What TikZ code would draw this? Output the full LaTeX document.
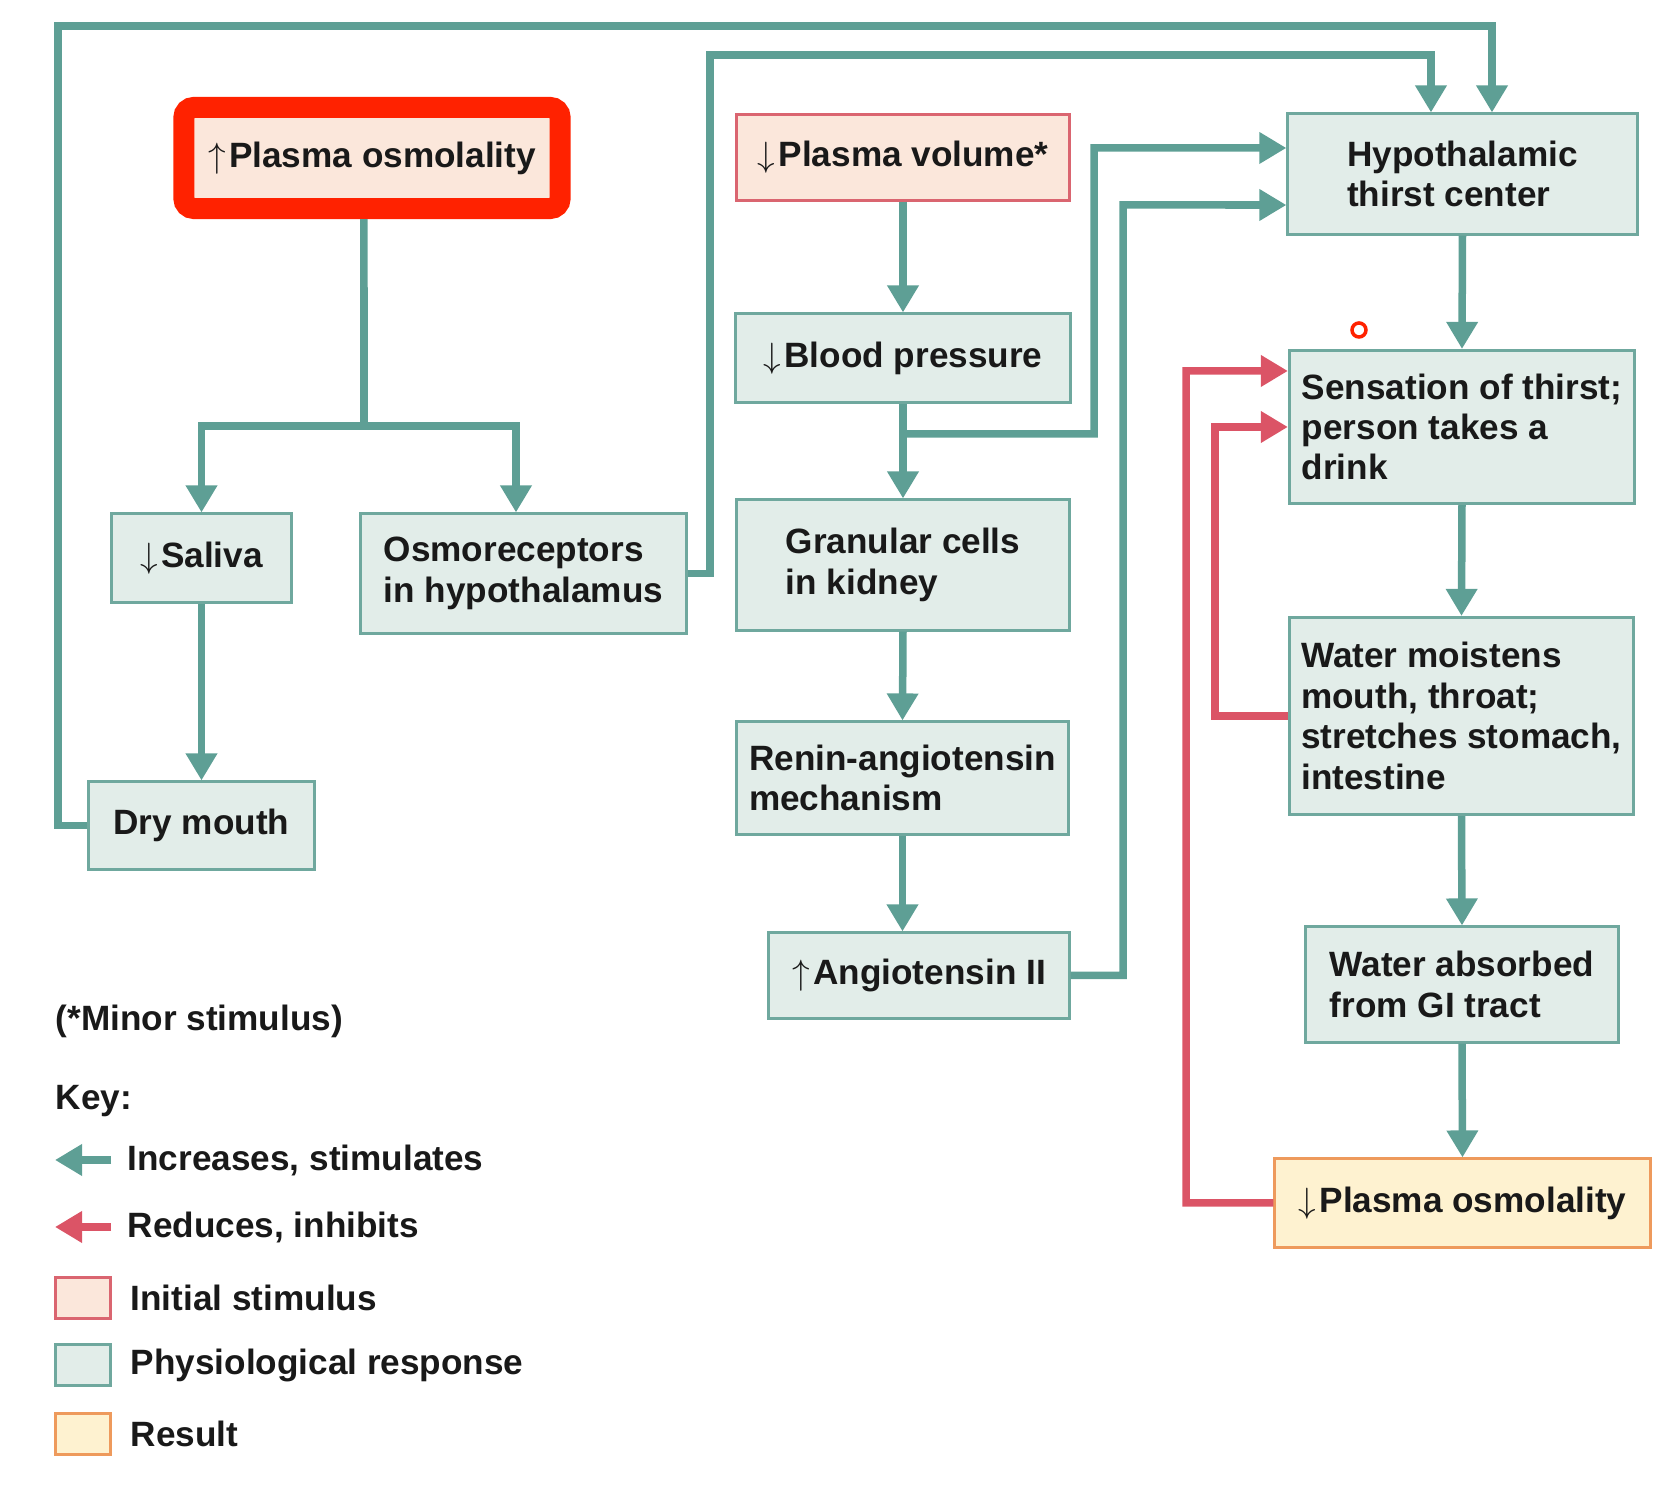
\documentclass[tikz,border=0pt]{standalone}
\usepackage{fontspec}
\setmainfont{Liberation Sans}
\usetikzlibrary{arrows.meta}
\definecolor{tealln}{HTML}{5E9F95}
\definecolor{tealfill}{HTML}{E2EDE9}
\definecolor{tealbd}{HTML}{6FA89E}
\definecolor{redln}{HTML}{DB5466}
\definecolor{peach}{HTML}{FBE7DB}
\definecolor{pinkbd}{HTML}{DA6570}
\definecolor{cream}{HTML}{FEF2D0}
\definecolor{orangebd}{HTML}{EE9A5C}
\definecolor{hilite}{HTML}{FF2200}
\newcommand{\incr}{$\uparrow$\kern1pt}
\newcommand{\decr}{$\downarrow$\kern1pt}

\begin{document}
\begin{tikzpicture}[x=0.01cm, y=-0.01cm,
  font=\bfseries\fontsize{10}{11.5}\selectfont,
  box/.style={draw=tealbd, fill=tealfill, line width=0.03cm, align=left,
    inner sep=0pt, text=black!90},
  stimbox/.style={box, draw=pinkbd, fill=peach},
  resbox/.style={box, draw=orangebd, fill=cream},
  stim/.style={draw=tealln, line width=0.075cm,
    -{Triangle[length=0.27cm,width=0.3cm]}},
  inhib/.style={stim, draw=redln},
  lbl/.style={anchor=west, inner sep=0pt, text=black!90}]
\useasboundingbox (0,0) rectangle (1656,1486);
% ---- boxes ----
\node[stimbox, draw=hilite, line width=0.21cm, rounded corners=0.1cm,
  minimum width=3.76cm, minimum height=1.01cm] (posm) at (372,158) {\incr Plasma osmolality};
\node[stimbox, minimum width=3.33cm, minimum height=0.85cm] (pvol) at (903,157.5) {\decr Plasma volume*};
\node[box, minimum width=3.49cm, minimum height=1.2cm] (hypo) at (1462.5,174) {Hypothalamic\\thirst center};
\node[box, minimum width=3.34cm, minimum height=0.88cm] (bp) at (903,358) {\decr Blood pressure};
\node[box, minimum width=3.45cm, minimum height=1.53cm] (sens) at (1462,427) {Sensation of thirst;\\person takes a\\drink};
\node[box, minimum width=1.79cm, minimum height=0.88cm] (saliva) at (201.5,558) {\decr Saliva};
\node[box, minimum width=3.25cm, minimum height=1.19cm] (osmo) at (523.5,573.5) {Osmoreceptors\\in hypothalamus};
\node[box, minimum width=3.32cm, minimum height=1.3cm] (gran) at (903,565) {Granular cells\\in kidney};
\node[box, minimum width=3.44cm, minimum height=1.97cm] (moist) at (1461.5,716) {Water moistens\\mouth, throat;\\stretches stomach,\\intestine};
\node[box, minimum width=3.31cm, minimum height=1.12cm] (renin) at (902.5,778) {Renin-angiotensin\\mechanism};
\node[box, minimum width=2.25cm, minimum height=0.87cm] (drym) at (201.5,825.5) {Dry mouth};
\node[box, minimum width=3cm, minimum height=0.85cm] (ang) at (919,975.5) {\incr Angiotensin II};
\node[box, minimum width=3.12cm, minimum height=1.15cm] (absorb) at (1462,984.5) {Water absorbed\\from GI tract};
\node[resbox, minimum width=3.75cm, minimum height=0.88cm] (result) at (1462.5,1203) {\decr Plasma osmolality};
% ---- left branch ----
\coordinate (split) at (364,426);
\draw[stim, -] ([xshift=-0.08cm]posm.south) -- (split);
\draw[stim] (split) -| (saliva.north);
\draw[stim] (split) -| ([xshift=-0.075cm]osmo.north);
\draw[stim] (saliva.south) -- (drym.north);
\draw[stim] (drym.west) -| (58,26) -| ([xshift=0.295cm]hypo.north);
\draw[stim] (osmo.east) -| (710,55) -| ([xshift=-0.315cm]hypo.north);
% ---- middle column ----
\coordinate (bpsplit) at (903,434);
\draw[stim] (pvol.south) -- (bp.north);
\draw[stim] (bp.south) -- (gran.north);
\draw[stim] (bpsplit) -| (1094,148) -- ([yshift=0.26cm]hypo.west);
\draw[stim] (gran.south) -- (renin.north);
\draw[stim] (renin.south) -- (renin.south |- ang.north);
\draw[stim] (ang.east) -| (1123,205) -- ([yshift=-0.31cm]hypo.west);
% ---- right column ----
\draw[stim] (hypo.south) -- (sens.north);
\draw[stim] (sens.south) -- (moist.north);
\draw[stim] (moist.south) -- (absorb.north);
\draw[stim] (absorb.south) -- (result.north);
\draw[inhib] (result.west) -| (1186,371) -- ([yshift=0.56cm]sens.west);
\draw[inhib] (moist.west) -| (1215,427) -- (sens.west);
\draw[hilite, fill=white, line width=0.035cm] (1359,330) circle[radius=0.07cm];
% ---- key ----
\node[lbl] (minor) at (55,1021) {(*Minor stimulus)};
\node[lbl] (key) at (55,1101) {Key:};
\coordinate (incs) at (111,1160);
\coordinate (ince) at (55,1160);
\draw[stim] (incs) -- (ince);
\node[lbl] (inctext) at (127,1160) {Increases, stimulates};
\coordinate (reds) at (111,1227);
\coordinate (rede) at (55,1227);
\draw[inhib] (reds) -- (rede);
\node[lbl] (redtext) at (127,1227) {Reduces, inhibits};
\node[stimbox, minimum width=0.54cm, minimum height=0.4cm] (keyini) at (83,1298) {};
\node[lbl] at (130,1298) {Initial stimulus};
\node[box, minimum width=0.54cm, minimum height=0.4cm] (keyphys) at (83,1365) {};
\node[lbl] at (130,1365) {Physiological response};
\node[resbox, minimum width=0.54cm, minimum height=0.4cm] (keyres) at (83,1434) {};
\node[lbl] at (130,1434) {Result};
\end{tikzpicture}
\end{document}
